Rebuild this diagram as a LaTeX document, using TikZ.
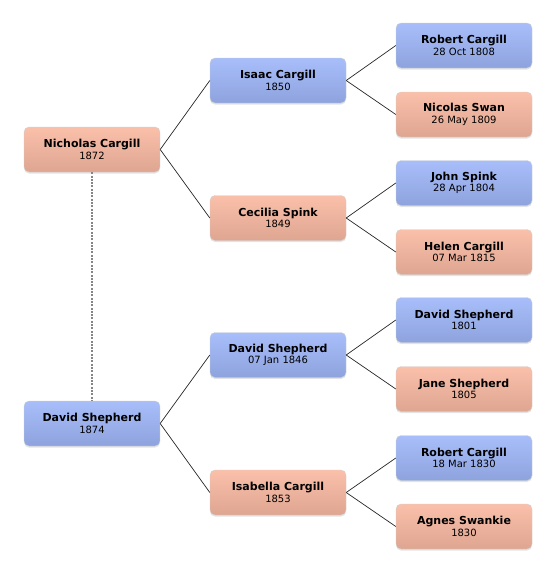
\documentclass[tikz,border=0pt]{standalone}
\usepackage{fontspec}
\setmainfont{DejaVu Sans}
\usetikzlibrary{shadows}

\definecolor{pinktop}{RGB}{250,192,170}
\definecolor{pinkbot}{RGB}{222,165,145}
\definecolor{bluetop}{RGB}{168,190,250}
\definecolor{bluebot}{RGB}{142,163,222}

\newcommand{\person}[2]{{\fontsize{11}{14}\selectfont\bfseries #1}\\[-0.5pt]{\fontsize{10}{14}\selectfont #2}}

\begin{document}
\begin{tikzpicture}[x=1pt, y=-1pt,
  box/.style={rectangle, rounded corners=5pt, draw=black!18, line width=0.4pt,
              minimum width=136pt, minimum height=45pt, align=center, inner sep=2pt,
              drop shadow={shadow xshift=0pt, shadow yshift=-1.5pt, opacity=0.22}},
  male/.style={box, top color=bluetop, bottom color=bluebot},
  female/.style={box, top color=pinktop, bottom color=pinkbot},
  link/.style={draw=black!85, line width=0.7pt},
  spouse/.style={draw=black!48, line width=1.2pt, dash pattern=on 2pt off 1.3pt}]

\useasboundingbox (0,0) rectangle (556,574);

\node[female] (nich)     at (92,149.5) {\person{Nicholas Cargill}{1872}};
\node[male]   (davidL)   at (92,423.5) {\person{David Shepherd}{1874}};

\node[male]   (isaac)    at (278,80.5)  {\person{Isaac Cargill}{1850}};
\node[female] (cecilia)  at (278,218)   {\person{Cecilia Spink}{1849}};
\node[male]   (davidM)   at (278,355)   {\person{David Shepherd}{07 Jan 1846}};
\node[female] (isabella) at (278,492.5) {\person{Isabella Cargill}{1853}};

\node[male]   (robert)   at (464,45.5)  {\person{Robert Cargill}{28 Oct 1808}};
\node[female] (nicolas)  at (464,114.5) {\person{Nicolas Swan}{26 May 1809}};
\node[male]   (john)     at (464,183)   {\person{John Spink}{28 Apr 1804}};
\node[female] (helen)    at (464,252)   {\person{Helen Cargill}{07 Mar 1815}};
\node[male]   (davidR)   at (464,320)   {\person{David Shepherd}{1801}};
\node[female] (jane)     at (464,389)   {\person{Jane Shepherd}{1805}};
\node[male]   (robertB)  at (464,458)   {\person{Robert Cargill}{18 Mar 1830}};
\node[female] (agnes)    at (464,526.5) {\person{Agnes Swankie}{1830}};

\draw[spouse] (nich.south) -- (davidL.north);

\draw[link] (nich.east)--(isaac.west);       \draw[link] (nich.east)--(cecilia.west);
\draw[link] (davidL.east)--(davidM.west);    \draw[link] (davidL.east)--(isabella.west);
\draw[link] (isaac.east)--(robert.west);     \draw[link] (isaac.east)--(nicolas.west);
\draw[link] (cecilia.east)--(john.west);     \draw[link] (cecilia.east)--(helen.west);
\draw[link] (davidM.east)--(davidR.west);    \draw[link] (davidM.east)--(jane.west);
\draw[link] (isabella.east)--(robertB.west); \draw[link] (isabella.east)--(agnes.west);
\end{tikzpicture}
\end{document}
